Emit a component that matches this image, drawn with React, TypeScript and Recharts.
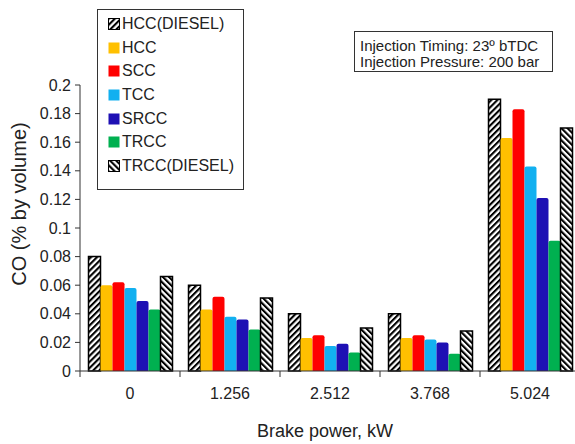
import React from "react";
import { BarChart, Bar, XAxis, YAxis, Legend } from "recharts";

const categories = ["0", "1.256", "2.512", "3.768", "5.024"];
const hccDiesel = [0.08, 0.06, 0.04, 0.04, 0.19];
const hcc = [0.06, 0.043, 0.023, 0.023, 0.163];
const scc = [0.062, 0.052, 0.025, 0.025, 0.183];
const tcc = [0.058, 0.038, 0.0175, 0.022, 0.143];
const srcc = [0.049, 0.036, 0.019, 0.02, 0.121];
const trcc = [0.043, 0.029, 0.013, 0.012, 0.091];
const trccDiesel = [0.066, 0.051, 0.03, 0.028, 0.17];
const yTicks = [0, 0.02, 0.04, 0.06, 0.08, 0.1, 0.12, 0.14, 0.16, 0.18, 0.2];

const seriesNames = ["HCC(DIESEL)", "HCC", "SCC", "TCC", "SRCC", "TRCC", "TRCC(DIESEL)"];
const seriesValues = [hccDiesel, hcc, scc, tcc, srcc, trcc, trccDiesel];
const seriesFills = [
  "url(#hatchFwd)",
  "#FFC000",
  "#FF0000",
  "#12B0F0",
  "#1E10B4",
  "#00B050",
  "url(#hatchBack)",
];
const hatched = [true, false, false, false, false, false, true];

const data = categories.map((c, i) => {
  const row: any = { cat: c };
  seriesNames.forEach((n, k) => {
    row[n] = seriesValues[k][i];
  });
  return row;
});

const FONT = "'Liberation Sans', Arial, sans-serif";
const TEXT = "#222";

const XTick = (props: any) => {
  const { x, y, payload, width, visibleTicksCount } = props;
  const half = width / visibleTicksCount / 2;
  return (
    <g>
      <line x1={x - half} x2={x - half} y1={y} y2={y + 6} stroke="#333" strokeWidth={1} />
      <text x={x} y={y + 28} textAnchor="middle" fontSize={16} fontFamily={FONT} fill={TEXT}>
        {payload.value}
      </text>
    </g>
  );
};

const LegendContent = (props: any) => {
  const payload = [...(props.payload || [])].sort(
    (a: any, b: any) => seriesNames.indexOf(a.value) - seriesNames.indexOf(b.value)
  );
  return (
    <div
      style={{
        boxSizing: "border-box",
        width: 147,
        height: 181,
        border: "1px solid #333",
        background: "#fff",
        paddingTop: 2,
        fontFamily: FONT,
        fontSize: 16,
        color: TEXT,
      }}
    >
      {payload.map((e: any, i: number) => {
        const idx = seriesNames.indexOf(e.value);
        return (
          <div key={i} style={{ display: "flex", alignItems: "center", height: 23.7 }}>
            <svg width={12} height={12} style={{ marginLeft: 10, marginRight: 2 }}>
              <rect
                x={0.5}
                y={0.5}
                width={11}
                height={11}
                fill={seriesFills[idx]}
                stroke={hatched[idx] ? "#000" : "none"}
                strokeWidth={1}
              />
            </svg>
            <span style={{ lineHeight: "16px" }}>{e.value}</span>
          </div>
        );
      })}
    </div>
  );
};

export default function App() {
  return (
    <div
      style={{
        position: "absolute",
        left: 0,
        top: 0,
        width: 575,
        height: 444,
        overflow: "hidden",
        background: "#fff",
      }}
    >
      <BarChart
        width={600}
        height={444}
        data={data}
        margin={{ top: 85, right: 20, left: 0, bottom: 0 }}
        barCategoryGap="8.5%"
        barGap={0}
      >
        <defs>
          <pattern id="hatchFwd" patternUnits="userSpaceOnUse" width={4.3} height={4.3} patternTransform="rotate(45)">
            <rect x={0} y={0} width={4.3} height={4.3} fill="#fff" />
            <rect x={0} y={0} width={2.1} height={4.3} fill="#000" />
          </pattern>
          <pattern id="hatchBack" patternUnits="userSpaceOnUse" width={4.3} height={4.3} patternTransform="rotate(-45)">
            <rect x={0} y={0} width={4.3} height={4.3} fill="#fff" />
            <rect x={0} y={0} width={2.1} height={4.3} fill="#000" />
          </pattern>
        </defs>
        <XAxis
          dataKey="cat"
          height={73}
          tickLine={false}
          tickSize={0}
          tickMargin={0}
          axisLine={{ stroke: "#333" }}
          tick={<XTick />}
          interval={0}
          label={{
            value: "Brake power, kW",
            position: "insideBottom",
            offset: 7,
            dx: -5,
            fontSize: 18,
            fontFamily: FONT,
            fill: TEXT,
          }}
        />
        <YAxis
          width={80}
          domain={[0, 0.2]}
          ticks={yTicks}
          interval={0}
          tickSize={5}
          tickMargin={4}
          axisLine={{ stroke: "#333" }}
          tickLine={{ stroke: "#333" }}
          tick={{ fontSize: 16, fontFamily: FONT, fill: TEXT }}
          label={{
            content: (p: any) => {
              const vb = p.viewBox;
              const cx = vb.x + 26;
              const cy = vb.y + vb.height / 2 - 24;
              return (
                <text
                  x={cx}
                  y={cy}
                  transform={`rotate(-90, ${cx}, ${cy})`}
                  textAnchor="middle"
                  fontSize={20}
                  fontFamily={FONT}
                  fill={TEXT}
                >
                  CO (% by volume)
                </text>
              );
            },
          }}
        />
        <Legend
          layout="vertical"
          align="center"
          verticalAlign="middle"
          content={<LegendContent />}
          wrapperStyle={{ position: "absolute", left: 97, top: 9, width: 147, height: 181 }}
        />
        {seriesNames.map((n, k) => (
          <Bar
            key={n}
            dataKey={n}
            name={n}
            fill={seriesFills[k]}
            stroke={hatched[k] ? "#000" : undefined}
            strokeWidth={hatched[k] ? 1.5 : 0}
            radius={hatched[k] ? 0 : [2, 2, 0, 0]}
            isAnimationActive={false}
          />
        ))}
      </BarChart>
      <div
        style={{
          position: "absolute",
          left: 354,
          top: 31,
          width: 199,
          height: 41,
          boxSizing: "border-box",
          border: "1px solid #333",
          background: "#fff",
          paddingTop: 6,
          paddingLeft: 5,
          fontFamily: FONT,
          fontSize: 15,
          lineHeight: "16px",
          color: TEXT,
          whiteSpace: "nowrap",
        }}
      >
        <div>Injection Timing: 23º bTDC</div>
        <div>Injection Pressure: 200 bar</div>
      </div>
    </div>
  );
}
